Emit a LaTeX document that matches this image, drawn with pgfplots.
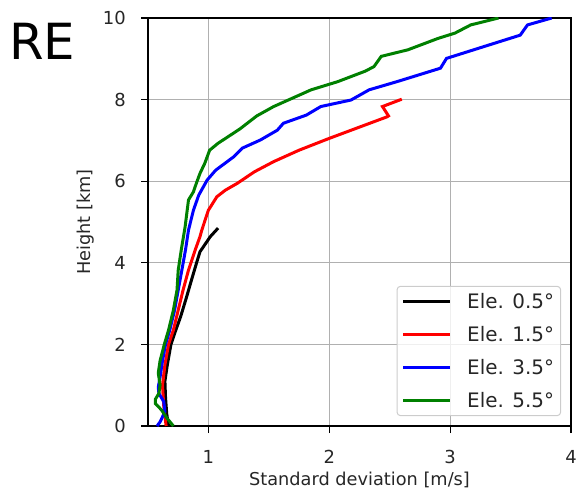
\documentclass[border=0pt]{standalone}
\usepackage{fontspec}
\setmainfont{DejaVu Sans}
\usepackage{pgfplots}
\pgfplotsset{compat=1.18}
\usepackage{pgfplotstable}

\definecolor{mplgreen}{rgb}{0,0.5,0}
\definecolor{gridgray}{RGB}{176,176,176}
\definecolor{legframe}{RGB}{204,204,204}
\definecolor{txt}{RGB}{38,38,38}

\pgfplotstableread{
h s
0.00 0.67
0.30 0.655
0.70 0.645
1.10 0.64
1.50 0.66
2.00 0.69
2.35 0.73
2.68 0.77
3.17 0.82
3.58 0.86
4.03 0.905
4.27 0.93
4.40 0.96
4.64 1.015
4.85 1.08
}\blacktab

\pgfplotstableread{
h s
0.00 0.65
0.50 0.63
1.00 0.62
1.50 0.64
2.00 0.67
2.35 0.71
2.84 0.75
3.33 0.79
3.82 0.835
4.31 0.89
4.64 0.93
4.80 0.945
5.29 1.00
5.62 1.07
5.78 1.14
5.95 1.24
6.23 1.38
6.48 1.54
6.56 1.60
6.76 1.75
7.05 2.00
7.58 2.48
7.60 2.49
7.83 2.44
8.01 2.60
}\redtab

\pgfplotstableread{
h s
0.00 0.575
0.10 0.60
0.35 0.64
0.60 0.63
0.80 0.59
0.95 0.585
1.20 0.60
1.60 0.62
2.00 0.645
2.35 0.68
2.84 0.72
3.33 0.75
3.82 0.78
4.31 0.81
4.80 0.835
5.29 0.876
5.66 0.92
6.03 0.99
6.27 1.06
6.60 1.21
6.81 1.28
7.01 1.43
7.25 1.57
7.42 1.62
7.62 1.81
7.83 1.93
7.99 2.18
8.24 2.33
8.44 2.56
8.77 2.92
9.01 2.97
9.30 3.28
9.58 3.58
9.83 3.64
10.0 3.84
}\bluetab

\pgfplotstableread{
h s
0.00 0.71
0.20 0.655
0.40 0.61
0.55 0.56
0.65 0.56
0.80 0.59
1.00 0.60
1.30 0.585
1.60 0.60
2.00 0.635
2.35 0.67
2.84 0.71
3.33 0.74
3.82 0.75
4.31 0.775
4.88 0.807
5.54 0.835
5.74 0.876
5.95 0.90
6.19 0.93
6.44 0.97
6.76 1.01
6.93 1.08
7.28 1.26
7.60 1.40
7.83 1.54
8.24 1.85
8.44 2.07
8.70 2.30
8.81 2.37
9.06 2.43
9.22 2.65
9.50 2.90
9.63 3.04
9.83 3.17
10.0 3.40
}\greentab

\begin{document}
\begin{tikzpicture}
\begin{axis}[
  name=ax,
  scale only axis,
  width=423bp, height=408bp,
  xmin=0.5, xmax=4, ymin=0, ymax=10,
  xtick={1,2,3,4}, ytick={0,2,4,6,8,10},
  tick pos=left,
  tick align=outside,
  major tick length=7bp,
  every tick/.style={black, line width=1.1bp},
  axis line style={black, line width=1.3bp},
  grid=major,
  major grid style={gridgray, line width=1.2bp},
  /pgf/number format/assume math mode=true,
  tick label style={font=\fontsize{18}{21}\selectfont, text=txt},
  xticklabel style={anchor=north, inner sep=0pt, yshift=-17bp},
  yticklabel style={anchor=east, inner sep=0pt, xshift=-15bp},
  label style={font=\fontsize{17.8}{20}\selectfont, text=txt},
  xlabel={Standard deviation [m/s]},
  ylabel={Height [km]},
  xlabel style={at={([yshift=-59bp]axis description cs:0.5,0)}, anchor=base, inner sep=0pt},
  ylabel style={at={([xshift=-62bp]axis description cs:0,0.5)}, anchor=center, inner sep=0pt},
  legend cell align=left,
  legend image code/.code={\draw[#1, line width=3bp] (0bp,0bp) -- (47bp,0bp); \path[draw=none, fill=none] (0bp,0bp) -- (62bp,0bp);},
  legend style={
    at={(axis description cs:1,0)}, anchor=south east,
    xshift=-10bp, yshift=10bp,
    draw=legframe, line width=1bp, rounded corners=3bp,
    fill=white, fill opacity=0.8, text opacity=1,
    font=\fontsize{20}{24}\selectfont, text=txt,
    nodes={inner sep=2bp, text depth=0.15em},
    inner xsep=4.5bp, inner ysep=4.5bp,
    row sep=12.5bp,
  },
]
\addplot[black, line width=3bp] table[x=s, y=h] {\blacktab};
\addlegendentry{Ele. 0.5°}
\addplot[red, line width=3bp] table[x=s, y=h] {\redtab};
\addlegendentry{Ele. 1.5°}
\addplot[blue, line width=3bp] table[x=s, y=h] {\bluetab};
\addlegendentry{Ele. 3.5°}
\addplot[mplgreen, line width=3bp] table[x=s, y=h] {\greentab};
\addlegendentry{Ele. 5.5°}
\end{axis}
\node[anchor=base west, inner sep=0pt, font=\fontsize{50}{54}\selectfont]
  at ([shift={(-139bp,-42bp)}]ax.north west) {RE};
\pgfresetboundingbox
\path ([shift={(-148bp,-63bp)}]ax.south west) rectangle ([shift={(7bp,18bp)}]ax.north east);
\end{tikzpicture}
\end{document}
